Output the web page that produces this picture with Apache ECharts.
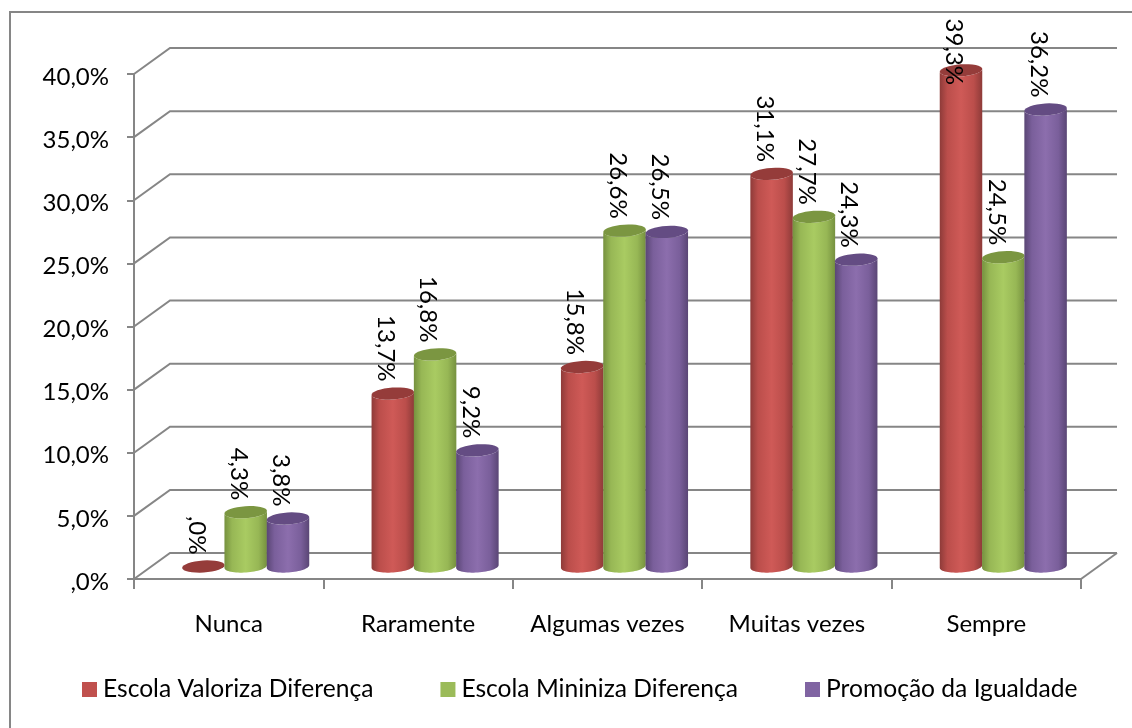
<!DOCTYPE html>
<html>
<head>
<meta charset="utf-8">
<style>html,body{margin:0;padding:0;background:#fff;overflow:hidden}#chart{width:1132px;height:728px}</style>
<script src="https://cdn.jsdelivr.net/npm/echarts@6/dist/echarts.min.js"></script>
</head>
<body>
<div id="chart"></div>
<script>
const categories = ['Nunca', 'Raramente', 'Algumas vezes', 'Muitas vezes', 'Sempre'];
const valoriza = [0, 13.7, 15.8, 31.1, 39.3];
const minimiza = [4.3, 16.8, 26.6, 27.7, 24.5];
const promocao = [3.8, 9.2, 26.5, 24.3, 36.2];
const yTicks = [0, 5, 10, 15, 20, 25, 30, 35, 40];

const FONT = 'Lato';
const FONT_SIZE = 24;
const GRID_COLOR = '#868686';
// Depth of the floor and walls, in pixels.
const DEPTH_X = 36, DEPTH_Y = -26;
// Cylinder geometry.
const BAR_W = 42.3, RX = 21.3, RY = 6, TILT = -4 * Math.PI / 180, BAR_DX = 17, BAR_DY = -12.5;

const fmt = v => v.toFixed(1).replace('.', ',').replace(/^0,/, ',') + '%';

function ellipsePoint(cx, cy, t) {
  const ex = RX * Math.cos(t), ey = RY * Math.sin(t);
  return [cx + ex * Math.cos(TILT) - ey * Math.sin(TILT), cy + ex * Math.sin(TILT) + ey * Math.cos(TILT)];
}
function arc(cx, cy, from, to) {
  const pts = [];
  for (let i = 0; i <= 32; i++) pts.push(ellipsePoint(cx, cy, from + (to - from) * i / 32));
  return pts;
}

function cylinder(slot, shades) {
  return function (params, api) {
    const pos = api.coord([api.value(0), api.value(1)]);
    const base = api.coord([api.value(0), 0]);
    const cx = pos[0] + BAR_DX + slot * BAR_W;
    const top = pos[1] + BAR_DY, bottom = base[1] + BAR_DY;
    const body = arc(cx, bottom, Math.PI, 0).concat(arc(cx, top, 0, Math.PI));
    const labelEnd = Math.max(top - 12, 85);
    return {
      type: 'group',
      children: [
        {
          type: 'polygon',
          shape: { points: body },
          style: {
            fill: new echarts.graphic.LinearGradient(0, 0, 1, 0, [
              { offset: 0, color: shades.edge },
              { offset: 0.18, color: shades.mid },
              { offset: 0.5, color: shades.light },
              { offset: 0.8, color: shades.mid },
              { offset: 1, color: shades.edge }
            ])
          }
        },
        { type: 'polygon', shape: { points: arc(cx, top, 0, Math.PI * 2) }, style: { fill: shades.top } },
        {
          type: 'text',
          x: cx - 7,
          y: labelEnd,
          rotation: -Math.PI / 2,
          style: { text: fmt(api.value(1)), fontFamily: FONT, fontSize: FONT_SIZE, fill: '#000', align: 'right', verticalAlign: 'middle' }
        }
      ]
    };
  };
}

function wallLine(params, api) {
  const v = api.value(0);
  const y = api.coord([0, v])[1];
  const x0 = params.coordSys.x, x1 = x0 + params.coordSys.width;
  const style = { stroke: GRID_COLOR, lineWidth: 2, fill: 'none' };
  const children = [{
    type: 'polyline',
    shape: { points: [[x0, y], [x0 + DEPTH_X, y + DEPTH_Y], [x1 + DEPTH_X, y + DEPTH_Y]] },
    style
  }];
  if (v === 0) {
    children.push({ type: 'line', shape: { x1, y1: y, x2: x1 + DEPTH_X, y2: y + DEPTH_Y }, style });
  }
  return { type: 'group', children };
}

function barSeries(name, values, slot, color, shades) {
  return {
    name, type: 'custom', z: 3, clip: false,
    itemStyle: { color },
    renderItem: cylinder(slot, shades),
    data: values.map((v, i) => [i, v])
  };
}

const chart = echarts.init(document.getElementById('chart'), null, { renderer: 'canvas' });
chart.setOption({
  animation: false,
  backgroundColor: '#ffffff',
  graphic: [{
    type: 'rect', z: 0, silent: true,
    shape: { x: 10, y: 12, width: 1140, height: 740 },
    style: { fill: 'none', stroke: GRID_COLOR, lineWidth: 2 }
  }],
  grid: { left: 134, right: 51, top: 74, bottom: 149 },
  legend: {
    data: ['Escola Valoriza Diferença', 'Escola Mininiza Diferença', 'Promoção da Igualdade'],
    left: 77, top: 672, itemWidth: 15, itemHeight: 15, itemGap: 67,
    icon: 'rect',
    textStyle: { fontFamily: FONT, fontSize: 24.6, color: '#000', padding: [0, 0, 0, 1] }
  },
  xAxis: {
    type: 'category',
    data: categories,
    axisLine: { lineStyle: { color: GRID_COLOR, width: 2 } },
    axisTick: { show: true, interval: 0, length: 10, lineStyle: { color: GRID_COLOR, width: 2 } },
    axisLabel: { interval: 0, hideOverlap: false, fontFamily: FONT, fontSize: FONT_SIZE, color: '#000', margin: 33 }
  },
  yAxis: {
    type: 'value', min: 0, max: 40, interval: 5,
    splitLine: { show: false },
    axisLine: { show: true, lineStyle: { color: GRID_COLOR, width: 2 } },
    axisTick: { show: true, length: 7, lineStyle: { color: GRID_COLOR, width: 2 } },
    axisLabel: { fontFamily: FONT, fontSize: FONT_SIZE, color: '#000', margin: 25, verticalAlign: 'top', lineHeight: 6, formatter: fmt }
  },
  series: [
    { type: 'custom', name: 'walls', z: 1, clip: false, silent: true, renderItem: wallLine, data: yTicks.map(v => [v]), encode: { y: 0 } },
    barSeries('Escola Valoriza Diferença', valoriza, -1, '#c0504d', { edge: '#8e3b39', mid: '#bb4e4b', light: '#cf5a57', top: '#953c3a' }),
    barSeries('Escola Mininiza Diferença', minimiza, 0, '#9bbb59', { edge: '#76913f', mid: '#97b755', light: '#a9cb62', top: '#7b9641' }),
    barSeries('Promoção da Igualdade', promocao, 1, '#8064a2', { edge: '#5a4675', mid: '#7a5f9b', light: '#8c6ead', top: '#644c83' })
  ]
});
</script>
</body>
</html>
